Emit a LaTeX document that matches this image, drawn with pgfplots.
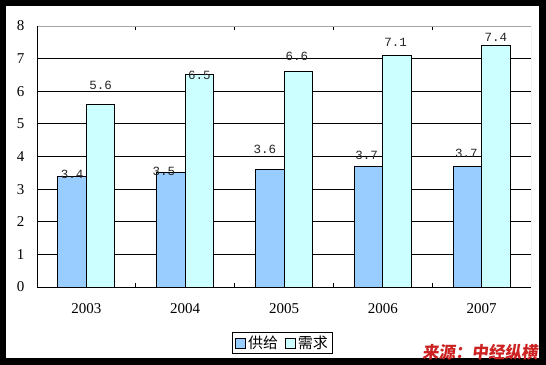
\documentclass[border=0pt]{standalone}
\usepackage{pgfplots}
\usepackage{pgfplotstable}
\pgfplotsset{compat=1.18}
\usepackage{fontspec}
\setmainfont{Liberation Serif}
\newfontfamily\cjk{Noto Sans CJK SC}
\newfontfamily\cjkred[FakeSlant=0.12]{Noto Sans CJK SC}
\newfontfamily\valfont{Liberation Mono}
\definecolor{supply}{HTML}{99CCFF}
\definecolor{demand}{HTML}{CCFFFF}
\definecolor{srcred}{RGB}{204,34,34}

\pgfplotstableread{
x y lab dx dy
0 3.4 3.4 0 2
1 3.5 3.5 -7 1
2 3.6 3.6 -5 20
3 3.7 3.7 -2 11
4 3.7 3.7 -1 13
}\supplytab

\pgfplotstableread{
x y lab dx dy
0 5.6 5.6 0 19
1 6.5 6.5 0 0
2 6.6 6.6 -1.5 15
3 7.1 7.1 -1.5 13
4 7.4 7.4 0 8
}\demandtab

\pgfplotsset{
  vlabels/.style={
    point meta=explicit symbolic,
    nodes near coords={\valfont\fontsize{12.5bp}{14bp}\selectfont\pgfplotspointmeta},
    visualization depends on={\thisrow{dx} \as \lblx},
    visualization depends on={\thisrow{dy} \as \lbly},
    every node near coord/.append style={anchor=center, xshift=\lblx bp, yshift=\lbly bp, inner sep=0pt, text=black!85},
  }
}

\begin{document}
\begin{tikzpicture}
\fill[black] (0,0) rectangle (546bp,365bp);
\fill[white] (6bp,7bp) rectangle (539bp,359bp);
\begin{axis}[
  at={(37bp,78bp)}, anchor=south west,
  width=494bp, height=261bp, scale only axis,
  ybar=0pt, bar width=28.5bp,
  xmin=-0.5, xmax=4.5, ymin=0, ymax=8,
  xtick={0,...,4}, xticklabels={2003,2004,2005,2006,2007},
  ytick={0,...,8},
  major tick length=0pt,
  extra x ticks={0.5,1.5,2.5,3.5},
  extra x tick labels={},
  extra x tick style={major tick length=4bp, tick align=inside, tick style={black, line width=1bp}},
  ymajorgrids, major grid style={black, line width=1bp},
  axis line style={draw=none},
  /pgf/number format/assume math mode=true,
  tick label style={font=\fontsize{15bp}{18bp}\selectfont},
  xticklabel style={anchor=center, yshift=-22bp},
  yticklabel style={anchor=center, xshift=-16.5bp},
  legend style={at={(0.497,-0.2146)}, anchor=center, legend columns=2,
    draw=black, line width=1bp, inner xsep=3bp, inner ysep=1.5bp,
    font=\cjk\fontsize{15bp}{17bp}\selectfont,
    /tikz/every even column/.append style={column sep=5bp}},
  legend image code/.code={\draw[#1, draw=black, line width=0.8bp] (0bp,-5bp) rectangle (10bp,5bp);},
]
\addplot[fill=supply, draw=black, line width=1bp, vlabels] table[x=x, y=y, meta=lab] {\supplytab};
\addplot[fill=demand, draw=black, line width=1bp, vlabels] table[x=x, y=y, meta=lab] {\demandtab};
\legend{供给, 需求}
\draw[gray!70, line width=1bp] (rel axis cs:0,1) -- (rel axis cs:1,1) -- (rel axis cs:1,0);
\draw[black, line width=1bp] (rel axis cs:0,1) -- (rel axis cs:0,0) -- (rel axis cs:1,0);
\end{axis}
\node[anchor=east, text=srcred, font=\cjkred\bfseries\fontsize{16.5bp}{18bp}\selectfont, inner sep=0pt] at (538bp,13bp) {来源：中经纵横};
\end{tikzpicture}
\end{document}
